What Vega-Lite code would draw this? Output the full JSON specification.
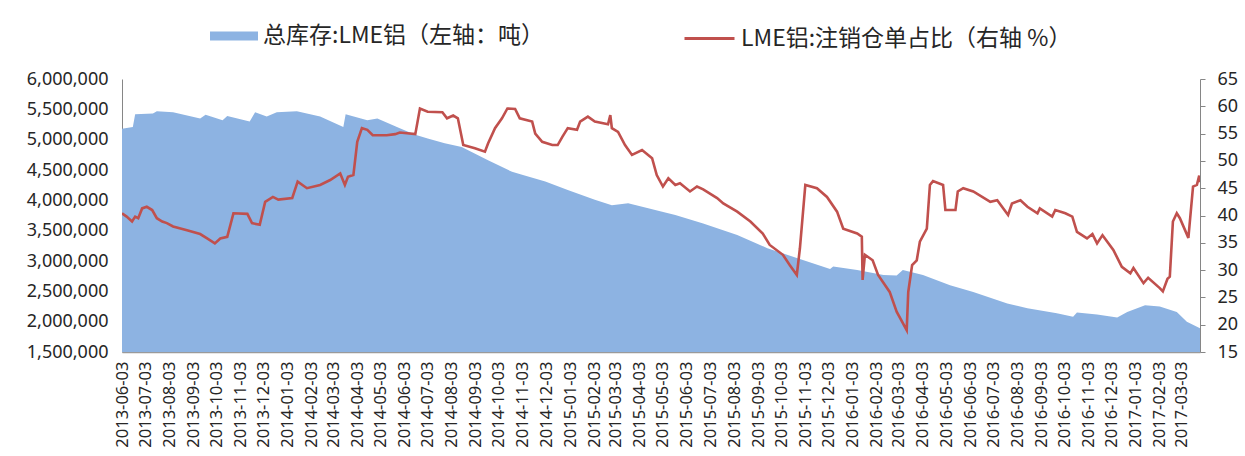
{
  "$schema": "https://vega.github.io/schema/vega-lite/v6.json",
  "width": 1078,
  "height": 273,
  "autosize": {"type": "none"},
  "padding": {"left": 122, "top": 79, "right": 45, "bottom": 104},
  "background": "white",
  "config": {
    "view": {"stroke": null},
    "axis": {"grid": false, "labelFont": "Noto Sans", "labelColor": "#262626", "domainColor": "#868686", "tickColor": "#868686"}
  },
  "datasets": {
    "inv": [
      {"date": "2013-06-03", "v": 5180000}, {"date": "2013-06-17", "v": 5210000}, {"date": "2013-06-20", "v": 5420000},
      {"date": "2013-07-13", "v": 5430000}, {"date": "2013-07-18", "v": 5470000}, {"date": "2013-08-08", "v": 5450000},
      {"date": "2013-09-12", "v": 5350000}, {"date": "2013-09-19", "v": 5410000}, {"date": "2013-10-11", "v": 5320000},
      {"date": "2013-10-17", "v": 5390000}, {"date": "2013-11-15", "v": 5300000}, {"date": "2013-11-22", "v": 5450000},
      {"date": "2013-12-07", "v": 5380000}, {"date": "2013-12-20", "v": 5450000}, {"date": "2014-01-15", "v": 5470000},
      {"date": "2014-02-14", "v": 5380000}, {"date": "2014-03-16", "v": 5210000}, {"date": "2014-03-19", "v": 5420000},
      {"date": "2014-04-16", "v": 5320000}, {"date": "2014-04-29", "v": 5350000}, {"date": "2014-05-28", "v": 5190000},
      {"date": "2014-06-17", "v": 5080000}, {"date": "2014-07-03", "v": 5020000}, {"date": "2014-07-25", "v": 4940000},
      {"date": "2014-08-16", "v": 4880000}, {"date": "2014-09-19", "v": 4660000}, {"date": "2014-10-20", "v": 4470000},
      {"date": "2014-11-02", "v": 4420000}, {"date": "2014-12-02", "v": 4310000}, {"date": "2014-12-31", "v": 4170000},
      {"date": "2015-02-04", "v": 4010000}, {"date": "2015-02-26", "v": 3920000}, {"date": "2015-03-19", "v": 3950000},
      {"date": "2015-04-14", "v": 3870000}, {"date": "2015-05-02", "v": 3810000}, {"date": "2015-05-19", "v": 3760000},
      {"date": "2015-06-24", "v": 3620000}, {"date": "2015-08-07", "v": 3430000}, {"date": "2015-09-15", "v": 3210000},
      {"date": "2015-10-23", "v": 3050000}, {"date": "2015-12-05", "v": 2870000}, {"date": "2015-12-09", "v": 2910000},
      {"date": "2016-01-09", "v": 2850000}, {"date": "2016-02-12", "v": 2770000}, {"date": "2016-02-29", "v": 2760000},
      {"date": "2016-03-08", "v": 2850000}, {"date": "2016-04-03", "v": 2770000}, {"date": "2016-05-08", "v": 2600000},
      {"date": "2016-06-07", "v": 2490000}, {"date": "2016-07-21", "v": 2300000}, {"date": "2016-08-16", "v": 2220000},
      {"date": "2016-09-23", "v": 2140000}, {"date": "2016-10-14", "v": 2080000}, {"date": "2016-10-19", "v": 2150000},
      {"date": "2016-11-14", "v": 2120000}, {"date": "2016-12-10", "v": 2070000}, {"date": "2016-12-23", "v": 2160000},
      {"date": "2017-01-15", "v": 2270000}, {"date": "2017-02-03", "v": 2250000}, {"date": "2017-02-25", "v": 2160000},
      {"date": "2017-03-10", "v": 2000000}, {"date": "2017-03-27", "v": 1890000}
    ],
    "ratio": [
      {"date": "2013-06-03", "r": 40.4}, {"date": "2013-06-09", "r": 39.8}, {"date": "2013-06-16", "r": 38.9},
      {"date": "2013-06-20", "r": 39.8}, {"date": "2013-06-24", "r": 39.5}, {"date": "2013-06-29", "r": 41.3},
      {"date": "2013-07-05", "r": 41.6}, {"date": "2013-07-12", "r": 41.0}, {"date": "2013-07-18", "r": 39.5},
      {"date": "2013-07-25", "r": 38.9}, {"date": "2013-07-31", "r": 38.6}, {"date": "2013-08-08", "r": 38.0},
      {"date": "2013-08-26", "r": 37.3}, {"date": "2013-09-12", "r": 36.6}, {"date": "2013-09-21", "r": 35.8},
      {"date": "2013-10-01", "r": 34.9}, {"date": "2013-10-08", "r": 35.8}, {"date": "2013-10-17", "r": 36.1},
      {"date": "2013-10-25", "r": 40.4}, {"date": "2013-11-12", "r": 40.3}, {"date": "2013-11-18", "r": 38.6},
      {"date": "2013-11-28", "r": 38.3}, {"date": "2013-12-05", "r": 42.5}, {"date": "2013-12-15", "r": 43.4},
      {"date": "2013-12-22", "r": 42.9}, {"date": "2014-01-09", "r": 43.2}, {"date": "2014-01-16", "r": 46.2},
      {"date": "2014-01-28", "r": 45.0}, {"date": "2014-02-14", "r": 45.6}, {"date": "2014-02-27", "r": 46.5},
      {"date": "2014-03-12", "r": 47.7}, {"date": "2014-03-18", "r": 45.6}, {"date": "2014-03-22", "r": 47.1},
      {"date": "2014-03-29", "r": 47.4}, {"date": "2014-04-03", "r": 53.5}, {"date": "2014-04-09", "r": 56.0},
      {"date": "2014-04-16", "r": 55.7}, {"date": "2014-04-23", "r": 54.7}, {"date": "2014-05-11", "r": 54.7},
      {"date": "2014-05-22", "r": 54.9}, {"date": "2014-05-28", "r": 55.2}, {"date": "2014-06-17", "r": 54.9},
      {"date": "2014-06-23", "r": 59.6}, {"date": "2014-07-03", "r": 59.0}, {"date": "2014-07-22", "r": 58.9},
      {"date": "2014-07-28", "r": 57.8}, {"date": "2014-08-05", "r": 58.3}, {"date": "2014-08-11", "r": 57.8},
      {"date": "2014-08-18", "r": 52.9}, {"date": "2014-09-02", "r": 52.3}, {"date": "2014-09-15", "r": 51.7},
      {"date": "2014-09-19", "r": 53.2}, {"date": "2014-09-28", "r": 56.0}, {"date": "2014-10-07", "r": 57.8},
      {"date": "2014-10-14", "r": 59.6}, {"date": "2014-10-24", "r": 59.5}, {"date": "2014-10-30", "r": 57.8},
      {"date": "2014-11-15", "r": 57.2}, {"date": "2014-11-19", "r": 55.0}, {"date": "2014-11-28", "r": 53.5},
      {"date": "2014-12-11", "r": 52.9}, {"date": "2014-12-18", "r": 52.9}, {"date": "2014-12-24", "r": 54.4},
      {"date": "2014-12-31", "r": 56.0}, {"date": "2015-01-12", "r": 55.7}, {"date": "2015-01-16", "r": 57.2},
      {"date": "2015-01-26", "r": 58.1}, {"date": "2015-02-04", "r": 57.2}, {"date": "2015-02-21", "r": 56.7},
      {"date": "2015-02-24", "r": 58.4}, {"date": "2015-02-26", "r": 56.0}, {"date": "2015-03-06", "r": 55.3},
      {"date": "2015-03-15", "r": 52.9}, {"date": "2015-03-24", "r": 51.1}, {"date": "2015-04-06", "r": 52.0},
      {"date": "2015-04-19", "r": 50.5}, {"date": "2015-04-25", "r": 47.4}, {"date": "2015-05-03", "r": 45.3},
      {"date": "2015-05-10", "r": 46.8}, {"date": "2015-05-19", "r": 45.6}, {"date": "2015-05-25", "r": 45.9},
      {"date": "2015-06-07", "r": 44.4}, {"date": "2015-06-16", "r": 45.3}, {"date": "2015-06-24", "r": 44.8},
      {"date": "2015-07-12", "r": 43.2}, {"date": "2015-07-20", "r": 42.2}, {"date": "2015-08-07", "r": 40.7},
      {"date": "2015-08-24", "r": 38.9}, {"date": "2015-09-09", "r": 36.7}, {"date": "2015-09-18", "r": 34.6},
      {"date": "2015-10-05", "r": 32.8}, {"date": "2015-10-14", "r": 30.9}, {"date": "2015-10-23", "r": 29.1},
      {"date": "2015-10-27", "r": 34.0}, {"date": "2015-11-03", "r": 45.6}, {"date": "2015-11-18", "r": 45.0},
      {"date": "2015-12-01", "r": 43.4}, {"date": "2015-12-14", "r": 40.7}, {"date": "2015-12-22", "r": 37.6},
      {"date": "2016-01-09", "r": 36.7}, {"date": "2016-01-15", "r": 36.1}, {"date": "2016-01-16", "r": 28.2},
      {"date": "2016-01-19", "r": 32.8}, {"date": "2016-01-29", "r": 31.8}, {"date": "2016-02-05", "r": 29.1},
      {"date": "2016-02-20", "r": 26.0}, {"date": "2016-02-29", "r": 22.4}, {"date": "2016-03-13", "r": 19.0},
      {"date": "2016-03-15", "r": 26.0}, {"date": "2016-03-20", "r": 30.9}, {"date": "2016-03-26", "r": 31.8},
      {"date": "2016-03-30", "r": 35.2}, {"date": "2016-04-08", "r": 37.6}, {"date": "2016-04-12", "r": 45.6},
      {"date": "2016-04-16", "r": 46.3}, {"date": "2016-04-29", "r": 45.6}, {"date": "2016-05-02", "r": 41.0},
      {"date": "2016-05-15", "r": 41.0}, {"date": "2016-05-18", "r": 44.4}, {"date": "2016-05-25", "r": 45.0},
      {"date": "2016-06-07", "r": 44.4}, {"date": "2016-06-29", "r": 42.5}, {"date": "2016-07-08", "r": 42.8},
      {"date": "2016-07-22", "r": 40.1}, {"date": "2016-07-27", "r": 42.2}, {"date": "2016-08-07", "r": 42.8},
      {"date": "2016-08-16", "r": 41.6}, {"date": "2016-08-29", "r": 40.4}, {"date": "2016-09-01", "r": 41.3},
      {"date": "2016-09-17", "r": 39.8}, {"date": "2016-09-21", "r": 41.0}, {"date": "2016-10-04", "r": 40.4},
      {"date": "2016-10-13", "r": 39.8}, {"date": "2016-10-19", "r": 37.0}, {"date": "2016-11-01", "r": 35.8},
      {"date": "2016-11-08", "r": 36.6}, {"date": "2016-11-14", "r": 34.9}, {"date": "2016-11-21", "r": 36.4},
      {"date": "2016-12-05", "r": 33.7}, {"date": "2016-12-16", "r": 30.6}, {"date": "2016-12-27", "r": 29.4},
      {"date": "2016-12-31", "r": 30.4}, {"date": "2017-01-13", "r": 27.6}, {"date": "2017-01-19", "r": 28.6},
      {"date": "2017-02-03", "r": 26.7}, {"date": "2017-02-07", "r": 26.1}, {"date": "2017-02-13", "r": 28.4},
      {"date": "2017-02-16", "r": 28.8}, {"date": "2017-02-19", "r": 36.4}, {"date": "2017-02-20", "r": 38.9},
      {"date": "2017-02-25", "r": 40.4}, {"date": "2017-03-01", "r": 39.5}, {"date": "2017-03-12", "r": 35.9},
      {"date": "2017-03-18", "r": 45.3}, {"date": "2017-03-23", "r": 45.6}, {"date": "2017-03-26", "r": 47.3},
      {"date": "2017-03-27", "r": 46.1}
    ]
  },
  "encoding": {
    "x": {
      "field": "date", "type": "temporal",
      "scale": {"type": "utc", "domain": [{"year": 2013, "month": 6, "date": 3, "utc": true}, {"year": 2017, "month": 3, "date": 27, "utc": true}]},
      "axis": {
        "title": null, "labelExpr": "utcFormat(datum.value, '%Y-%m-%d')", "labelAngle": 270, "labelFontSize": 16.5,
        "ticks": false, "tickSize": 0, "labelPadding": 9, "labelOverlap": false, "labelFlush": false, "labelBound": false,
        "domainColor": "#9a9a9a", "domainWidth": 1.5,
        "values": [
          {"year": 2013, "month": 6, "date": 3, "utc": true}, {"year": 2013, "month": 7, "date": 3, "utc": true},
          {"year": 2013, "month": 8, "date": 3, "utc": true}, {"year": 2013, "month": 9, "date": 3, "utc": true},
          {"year": 2013, "month": 10, "date": 3, "utc": true}, {"year": 2013, "month": 11, "date": 3, "utc": true},
          {"year": 2013, "month": 12, "date": 3, "utc": true}, {"year": 2014, "month": 1, "date": 3, "utc": true},
          {"year": 2014, "month": 2, "date": 3, "utc": true}, {"year": 2014, "month": 3, "date": 3, "utc": true},
          {"year": 2014, "month": 4, "date": 3, "utc": true}, {"year": 2014, "month": 5, "date": 3, "utc": true},
          {"year": 2014, "month": 6, "date": 3, "utc": true}, {"year": 2014, "month": 7, "date": 3, "utc": true},
          {"year": 2014, "month": 8, "date": 3, "utc": true}, {"year": 2014, "month": 9, "date": 3, "utc": true},
          {"year": 2014, "month": 10, "date": 3, "utc": true}, {"year": 2014, "month": 11, "date": 3, "utc": true},
          {"year": 2014, "month": 12, "date": 3, "utc": true}, {"year": 2015, "month": 1, "date": 3, "utc": true},
          {"year": 2015, "month": 2, "date": 3, "utc": true}, {"year": 2015, "month": 3, "date": 3, "utc": true},
          {"year": 2015, "month": 4, "date": 3, "utc": true}, {"year": 2015, "month": 5, "date": 3, "utc": true},
          {"year": 2015, "month": 6, "date": 3, "utc": true}, {"year": 2015, "month": 7, "date": 3, "utc": true},
          {"year": 2015, "month": 8, "date": 3, "utc": true}, {"year": 2015, "month": 9, "date": 3, "utc": true},
          {"year": 2015, "month": 10, "date": 3, "utc": true}, {"year": 2015, "month": 11, "date": 3, "utc": true},
          {"year": 2015, "month": 12, "date": 3, "utc": true}, {"year": 2016, "month": 1, "date": 3, "utc": true},
          {"year": 2016, "month": 2, "date": 3, "utc": true}, {"year": 2016, "month": 3, "date": 3, "utc": true},
          {"year": 2016, "month": 4, "date": 3, "utc": true}, {"year": 2016, "month": 5, "date": 3, "utc": true},
          {"year": 2016, "month": 6, "date": 3, "utc": true}, {"year": 2016, "month": 7, "date": 3, "utc": true},
          {"year": 2016, "month": 8, "date": 3, "utc": true}, {"year": 2016, "month": 9, "date": 3, "utc": true},
          {"year": 2016, "month": 10, "date": 3, "utc": true}, {"year": 2016, "month": 11, "date": 3, "utc": true},
          {"year": 2016, "month": 12, "date": 3, "utc": true}, {"year": 2017, "month": 1, "date": 3, "utc": true},
          {"year": 2017, "month": 2, "date": 3, "utc": true}, {"year": 2017, "month": 3, "date": 3, "utc": true}
        ]
      }
    }
  },
  "layer": [
    {
      "data": {"name": "inv"},
      "mark": {"type": "area", "clip": true, "interpolate": "linear"},
      "encoding": {
        "y": {
          "field": "v", "type": "quantitative",
          "scale": {"domain": [1500000, 6000000], "zero": false, "nice": false},
          "axis": {"title": null, "orient": "left", "labelExpr": "format(datum.value, ',')", "labelFontSize": 18, "ticks": false, "tickSize": 0, "labelPadding": 14,
                   "values": [1500000, 2000000, 2500000, 3000000, 3500000, 4000000, 4500000, 5000000, 5500000, 6000000]}
        },
        "y2": {"datum": 1500000},
        "fill": {
          "datum": "总库存:LME铝（左轴：吨）", "type": "nominal",
          "scale": {"range": ["#8DB3E2"]},
          "legend": {"orient": "none", "legendX": 88, "legendY": -67, "title": null, "symbolType": "M-1,-0.19H1V0.19H-1Z",
                     "symbolSize": 2304, "symbolStrokeWidth": 0, "symbolOpacity": 1, "labelFont": "Noto Sans CJK SC", "labelFontSize": 23,
                     "labelOffset": 5, "labelColor": "#262626", "labelLimit": 0}
        }
      }
    },
    {
      "data": {"name": "ratio"},
      "mark": {"type": "line", "strokeWidth": 2.6, "clip": true},
      "encoding": {
        "y": {
          "field": "r", "type": "quantitative",
          "scale": {"domain": [15, 65], "zero": false, "nice": false},
          "axis": {"title": null, "orient": "right", "labelExpr": "format(datum.value, 'd')", "labelFontSize": 18, "ticks": true, "tickSize": 5, "labelPadding": 12,
                   "values": [15, 20, 25, 30, 35, 40, 45, 50, 55, 60, 65]}
        },
        "stroke": {
          "datum": "LME铝:注销仓单占比（右轴 %）", "type": "nominal",
          "scale": {"range": ["#C0504D"]},
          "legend": {"orient": "none", "legendX": 561, "legendY": -67, "title": null, "symbolType": "stroke",
                     "symbolSize": 2500, "symbolStrokeWidth": 3, "labelFont": "Noto Sans CJK SC", "labelFontSize": 23,
                     "labelOffset": 5, "labelColor": "#262626", "labelLimit": 0}
        }
      }
    }
  ],
  "resolve": {"scale": {"y": "independent"}}
}
